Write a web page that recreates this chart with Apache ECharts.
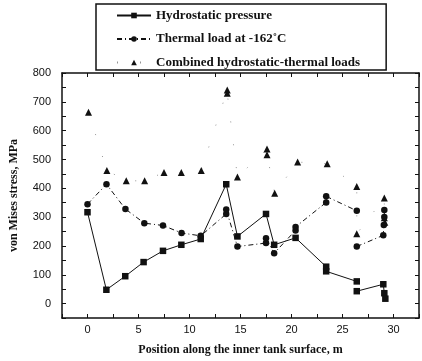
<!DOCTYPE html>
<html>
<head>
<meta charset="utf-8">
<script src="https://cdn.jsdelivr.net/npm/echarts@6/dist/echarts.min.js"></script>
<style>
  html, body { margin: 0; padding: 0; background: #fff; }
  #chart { width: 422px; height: 361px; }
</style>
</head>
<body>
<div id="chart"></div>
<script>
// ─── data ───
const seriesNames = ['Hydrostatic pressure', 'Thermal load at -162\u02DAC', 'Combined hydrostatic-thermal loads'];

// position along tank surface (m) / von Mises stress (MPa); '-' = break in the line
const hydroX = [0, 1.85, 3.7, 5.5, 7.4, 9.2, 11.1, 13.6, 14.7, 17.5, 18.3, 20.4, 23.4, 23.4, 26.4, '-', 26.4, 29.0, 29.1, 29.2];
const hydroY = [317, 48, 95, 144, 183, 204, 224, 414, 233, 311, 204, 228, 128, 112, 77, '-', 43, 67, 36, 17];

const thermX = [0, 1.86, 3.72, 5.57, 7.4, 9.22, 11.1, 13.6, 13.6, 14.7, 17.5, 17.5, 18.3, 20.4, 20.4, 23.4, 23.4, 26.4, '-', 26.4, 29.0, 29.05, 29.1, 29.1];
const thermY = [345, 414, 328, 279, 271, 245, 235, 311, 326, 198, 210, 227, 175, 254, 266, 351, 372, 322, '-', 198, 237, 273, 300, 325];

const combX = [0.1, 1.9, 3.8, 5.6, 7.5, 9.2, 11.15, 13.7, 13.7, 14.7, 17.6, 17.6, 18.35, 20.6, 23.5, 26.4, 26.4, 29.1, 29.1, 29.15];
const combY = [664, 462, 426, 426, 455, 455, 462, 741, 730, 439, 536, 516, 383, 491, 485, 406, 242, 366, 298, 282];

const xLabels = [0, 5, 10, 15, 20, 25, 30];
const yLabels = [0, 100, 200, 300, 400, 500, 600, 700, 800];

// ─── style ───
const INK = '#111';
const SERIF = "'Liberation Serif', 'DejaVu Serif', serif";
const SANS = "'Liberation Sans', Arial, sans-serif";

function pairs(xs, ys) {
  return xs.map((x, i) => (x === '-' ? '-' : [x, ys[i]]));
}

const tickStyle = { show: true, inside: true, length: 4, lineStyle: { color: INK, width: 1 } };
const lineStyleAxis = { show: true, onZero: false, lineStyle: { color: INK, width: 1.5 } };

const chart = echarts.init(document.getElementById('chart'), null, { renderer: 'canvas' });

chart.setOption({
  animation: false,
  backgroundColor: '#ffffff',
  textStyle: { fontFamily: SANS, color: INK },
  grid: { left: 61, right: -4, top: 73, bottom: 43, containLabel: false },
  legend: {
    orient: 'vertical',
    left: 96,
    top: 4,
    itemWidth: 34,
    itemHeight: 7,
    itemGap: 10.5,
    padding: [5, 26, 1, 20],
    borderColor: INK,
    borderWidth: 1.5,
    borderRadius: 0,
    backgroundColor: '#fff',
    textStyle: { fontFamily: SERIF, fontWeight: 'bold', fontSize: 13, color: INK },
    data: seriesNames,
  },
  xAxis: [
    {
      type: 'value',
      min: -2.5,
      max: 32.5,
      interval: 2.5,
      name: 'Position along the inner tank surface, m',
      nameLocation: 'middle',
      nameGap: 26,
      nameTextStyle: { fontFamily: SERIF, fontWeight: 'bold', fontSize: 12, color: INK },
      axisLine: lineStyleAxis,
      axisTick: tickStyle,
      splitLine: { show: false },
      axisLabel: {
        fontFamily: SANS, fontSize: 11, color: INK, margin: 6,
        formatter: (v) => (xLabels.includes(v) ? String(v) : ''),
      },
    },
    {
      type: 'value',
      position: 'top',
      min: -2.5,
      max: 32.5,
      interval: 2.5,
      axisLine: lineStyleAxis,
      axisTick: tickStyle,
      axisLabel: { show: false },
      splitLine: { show: false },
    },
  ],
  yAxis: [
    {
      type: 'value',
      min: -50,
      max: 800,
      interval: 50,
      name: 'von Mises stress, MPa',
      nameLocation: 'middle',
      nameGap: 42,
      nameTextStyle: { fontFamily: SERIF, fontWeight: 'bold', fontSize: 12, color: INK },
      axisLine: lineStyleAxis,
      axisTick: tickStyle,
      splitLine: { show: false },
      axisLabel: {
        fontFamily: SANS, fontSize: 11, color: INK, margin: 11,
        formatter: (v) => (yLabels.includes(v) ? String(v) : ''),
      },
    },
    {
      type: 'value',
      position: 'right',
      min: -50,
      max: 800,
      interval: 50,
      axisLine: lineStyleAxis,
      axisTick: tickStyle,
      axisLabel: { show: false },
      splitLine: { show: false },
    },
  ],
  series: [
    {
      name: seriesNames[0],
      type: 'line',
      data: pairs(hydroX, hydroY),
      symbol: 'rect',
      symbolSize: 6.5,
      connectNulls: false,
      lineStyle: { color: INK, width: 1 },
      itemStyle: { color: INK },
    },
    {
      name: seriesNames[1],
      type: 'line',
      data: pairs(thermX, thermY),
      symbol: 'circle',
      symbolSize: 6.5,
      connectNulls: false,
      lineStyle: { color: INK, width: 1, type: [5, 3, 1, 3] },
      itemStyle: { color: INK },
    },
    {
      name: seriesNames[2],
      type: 'line',
      data: pairs(combX, combY),
      symbol: 'triangle',
      symbolSize: 7,
      lineStyle: { color: INK, width: 1, type: [1, 22], opacity: 0.45 },
      itemStyle: { color: INK },
    },
  ],
});
</script>
</body>
</html>
